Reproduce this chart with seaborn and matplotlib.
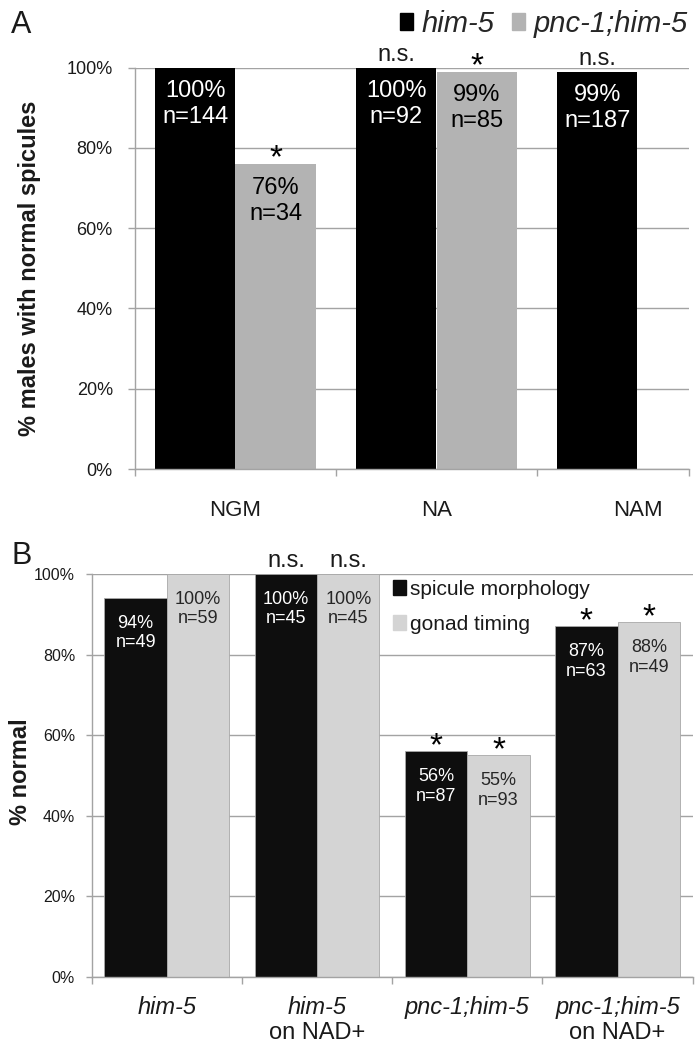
import numpy as np
import pandas as pd
import matplotlib
matplotlib.use("Agg")
import matplotlib.pyplot as plt
import matplotlib.patches as mpatches
from matplotlib.ticker import FuncFormatter
import seaborn as sns

# panel A data
media = ["NGM", "NA", "NAM"]
strains = ["him-5", "pnc-1;him-5"]
pct_him5 = [100, 100, 99]
pct_pnc1 = [76, 99, np.nan]
n_him5 = [144, 92, 187]
n_pnc1 = [34, 85, None]
sig_him5 = ["", "n.s.", "n.s."]
sig_pnc1 = ["*", "*", ""]

# panel B data
groups = ["him-5", "him-5", "pnc-1;him-5", "pnc-1;him-5"]
group_sub = ["", "on NAD+", "", "on NAD+"]
assays = ["spicule morphology", "gonad timing"]
pct_spic = [94, 100, 56, 87]
pct_gonad = [100, 100, 55, 88]
n_spic = [49, 45, 87, 63]
n_gonad = [59, 45, 93, 49]
sig_spic = ["", "n.s.", "*", "*"]
sig_gonad = ["", "n.s.", "*", "*"]

sns.set_theme(style="white")
plt.rcParams["font.family"] = ["Liberation Sans", "DejaVu Sans"]

W, H = 698, 1050
PT = 0.72  # points per pixel at dpi 100
GRID = "#a3a3a3"
TXT = "#1a1a1a"

fig = plt.figure(figsize=(W / 100, H / 100), dpi=100)
axA = fig.add_axes([135 / W, 1 - 469 / H, (689 - 135) / W, (469 - 67.7) / H])
axB = fig.add_axes([91.7 / W, 1 - 977 / H, (692.7 - 91.7) / W, (977 - 574) / H])

dfA = pd.DataFrame({
    "medium": media * 2,
    "strain": [strains[0]] * 3 + [strains[1]] * 3,
    "pct": pct_him5 + pct_pnc1,
})
dfB = pd.DataFrame({
    "group": list(range(4)) * 2,
    "assay": [assays[0]] * 4 + [assays[1]] * 4,
    "pct": pct_spic + pct_gonad,
})

colA = ["#000000", "#b3b3b3"]
colB = ["#0e0e0e", "#d4d4d4"]

sns.barplot(data=dfA, x="medium", y="pct", hue="strain", order=media,
            hue_order=strains, palette=colA, width=0.8, saturation=1,
            legend=False, ax=axA, linewidth=0)
sns.barplot(data=dfB, x="group", y="pct", hue="assay", hue_order=assays,
            palette=colB, width=0.83, saturation=1, legend=False, ax=axB,
            edgecolor="#a8a8a8", linewidth=0.6)


def style_axes(ax, xmax, ytick_size, ytick_pad, ytick_len):
    ax.set_ylim(0, 100)
    ax.set_xlim(-0.5, xmax)
    ax.set_yticks(range(0, 101, 20))
    ax.yaxis.set_major_formatter(FuncFormatter(lambda v, p: f"{v:.0f}%"))
    ax.yaxis.grid(True, color=GRID, lw=1.0)
    ax.xaxis.grid(False)
    ax.set_axisbelow(True)
    for s in ["top", "right"]:
        ax.spines[s].set_visible(False)
    for s in ["left", "bottom"]:
        ax.spines[s].set_color(GRID)
        ax.spines[s].set_linewidth(1.0)
    ax.tick_params(axis="y", left=True, length=ytick_len, width=1.0,
                   color=GRID, labelsize=ytick_size, pad=ytick_pad,
                   labelcolor=TXT)
    bounds = list(np.arange(-0.5, xmax, 1.0)) + [xmax]
    ax.set_xticks(bounds, minor=True)
    ax.tick_params(axis="x", which="minor", bottom=True, length=5,
                   width=1.0, color=GRID)
    ax.set_xlabel("")


style_axes(axA, -0.5 + (689 - 135) / 201, 13, 11, 5)
style_axes(axB, 3.5, 11.5, 8, 4)

axA.tick_params(axis="x", which="major", length=0, labelsize=16, pad=22,
                labelcolor=TXT)
axA.set_ylabel("% males with normal spicules", fontsize=17,
               fontweight="bold", color=TXT)
axA.yaxis.set_label_coords(-0.17, 0.5)

axB.set_xticks(range(4))
axB.set_xticklabels(groups, fontstyle="italic")
axB.tick_params(axis="x", which="major", length=0, labelsize=17, pad=14,
                labelcolor=TXT)
for i, sub in enumerate(group_sub):
    if sub:
        axB.annotate(sub, xy=(i, 0), xycoords=("data", "axes fraction"),
                     xytext=(0, -56 * PT), textcoords="offset points",
                     ha="center", va="center", fontsize=17, color=TXT)
axB.set_ylabel("% normal", fontsize=17, fontweight="bold", color=TXT)
axB.yaxis.set_label_coords(-0.1, 0.51)


def label_bars(ax, pcts, ns, sigs, txt_colors, size, spacing, drop_pt):
    for hi, cont in enumerate(ax.containers):
        for bar in cont:
            h = bar.get_height()
            if np.isnan(h):
                continue
            xc = bar.get_x() + bar.get_width() / 2
            ci = int(round(xc))
            ax.annotate(f"{pcts[hi][ci]:.0f}%\nn={ns[hi][ci]}", xy=(xc, h),
                        xytext=(0, -drop_pt), textcoords="offset points",
                        ha="center", va="top", fontsize=size,
                        linespacing=spacing, color=txt_colors[hi])
            s = sigs[hi][ci]
            if s == "*":
                ax.annotate(s, xy=(xc, h), xytext=(0, -2.5), textcoords="offset points",
                            ha="center", va="baseline", fontsize=24,
                            color="black", annotation_clip=False)
            elif s:
                ax.annotate(s, xy=(xc, h), xytext=(0, 5), textcoords="offset points",
                            ha="center", va="baseline", fontsize=17,
                            color=TXT, annotation_clip=False)


label_bars(axA, [pct_him5, pct_pnc1], [n_him5, n_pnc1], [sig_him5, sig_pnc1],
           ["white", "black"], 17, 1.25, 9)
label_bars(axB, [pct_spic, pct_gonad], [n_spic, n_gonad], [sig_spic, sig_gonad],
           ["white", "#262626"], 13, 1.2, 12)

# legends
handlesA = [mpatches.Patch(color=c, label=s) for c, s in zip(colA, strains)]
fig.legend(handles=handlesA, loc="center right",
           bbox_to_anchor=(688 / W, 1 - 24 / H), ncol=2, frameon=False,
           prop={"style": "italic", "size": 21}, handlelength=0.45,
           handleheight=0.5, handletextpad=0.3, columnspacing=0.6,
           borderpad=0, borderaxespad=0)
handlesB = [mpatches.Patch(color=c, label=s) for c, s in zip(colB, assays)]
fig.legend(handles=handlesB, loc="upper left",
           bbox_to_anchor=(393 / W, 1 - 580 / H), frameon=False,
           prop={"size": 15}, handlelength=0.6, handleheight=0.75,
           handletextpad=0.2, labelspacing=0.75, borderpad=0,
           borderaxespad=0, labelcolor=TXT)

fig.text(11 / W, 1 - 10 / H, "A", fontsize=22, va="top", ha="left", color=TXT)
fig.text(11 / W, 1 - 541 / H, "B", fontsize=22, va="top", ha="left", color=TXT)

fig.savefig("out.png", dpi=100)
